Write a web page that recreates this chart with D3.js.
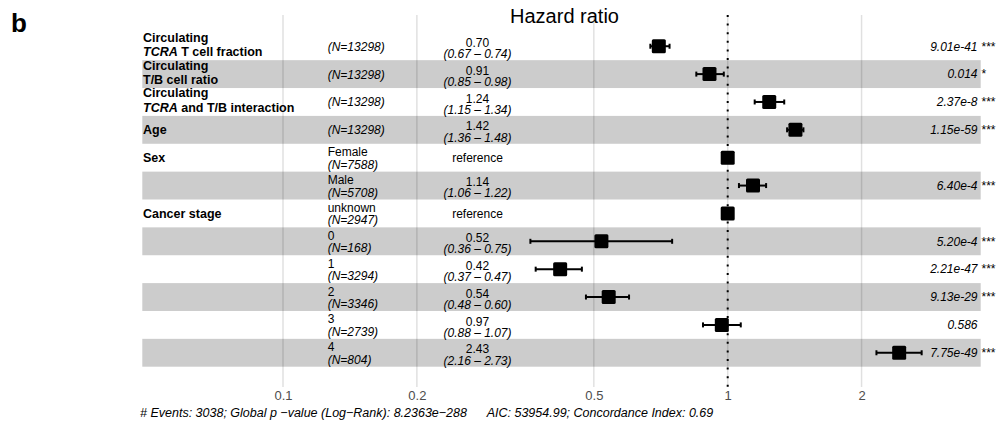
<!DOCTYPE html>
<html>
<head>
<meta charset="utf-8">
<script src="https://cdn.jsdelivr.net/npm/d3@7"></script>
<style>
  body { margin: 0; background: #fff; }
  text { font-family: "Liberation Sans", Arial, Helvetica, sans-serif; }
</style>
</head>
<body>
<div id="chart"></div>
<script>
// --------------------------------------
// Data
// --------------------------------------

// variable labels, "|" splits lines, _x_ marks italic
const varLabels = [
  "Circulating|_TCRA_ T cell fraction",
  "Circulating|T/B cell ratio",
  "Circulating|_TCRA_ and T/B interaction",
  "Age",
  "Sex",
  "",
  "Cancer stage",
  "", "", "", "", ""
];
const levels = ["", "", "", "", "Female", "Male", "unknown", "0", "1", "2", "3", "4"];
const counts = [13298, 13298, 13298, 13298, 7588, 5708, 2947, 168, 3294, 3346, 2739, 804];
const hr   = [0.70, 0.91, 1.24, 1.42, 1, 1.14, 1, 0.52, 0.42, 0.54, 0.97, 2.43];
const low  = [0.67, 0.85, 1.15, 1.36, null, 1.06, null, 0.36, 0.37, 0.48, 0.88, 2.16];
const high = [0.74, 0.98, 1.34, 1.48, null, 1.22, null, 0.75, 0.47, 0.60, 1.07, 2.73];
const isRef = [false, false, false, false, true, false, true, false, false, false, false, false];
const pvals = ["9.01e-41", "0.014", "2.37e-8", "1.15e-59", "", "6.40e-4", "", "5.20e-4", "2.21e-47", "9.13e-29", "0.586", "7.75e-49"];
const stars = ["***", "*", "***", "***", "", "***", "", "***", "***", "***", "", "***"];
const tickValues = [0.1, 0.2, 0.5, 1, 2];
const footer1 = "# Events: 3038; Global p \u2212value (Log\u2212Rank): 8.2363e\u2212288";
const footer2 = "AIC: 53954.99; Concordance Index: 0.69";

const rows = hr.map((d, i) => ({
  i, label: varLabels[i], level: levels[i], n: counts[i], hr: d,
  lo: low[i], hi: high[i], ref: isRef[i], p: pvals[i], stars: stars[i]
}));

// --------------------------------------
// Canvas
// --------------------------------------

const width = 1001, height = 423;

const svg = d3.select("#chart")
  .append("svg")
    .attr("width", width)
    .attr("height", height);

// --------------------------------------
// Scales
// --------------------------------------

const x = d3.scaleLog().domain([0.1, 1]).range([283, 727.7]);
const y = d3.scaleBand().domain(d3.range(rows.length)).range([32.3, 366.7]);
const cy = i => y(i) + y.bandwidth() / 2;

const fmt = d3.format(".2f");

// --------------------------------------
// Bands and grid
// --------------------------------------

svg.selectAll("rect.band")
  .data(rows.filter(d => d.i % 2 === 1))
  .join("rect")
    .attr("class", "band")
    .attr("x", 142.3)
    .attr("y", d => y(d.i))
    .attr("width", 980.7 - 142.3)
    .attr("height", y.bandwidth())
    .attr("fill", "#cccccc");

svg.selectAll("line.grid")
  .data(tickValues)
  .join("line")
    .attr("class", "grid")
    .attr("x1", d => x(d)).attr("x2", d => x(d))
    .attr("y1", 15).attr("y2", 387)
    .attr("stroke", "#000")
    .attr("stroke-opacity", 0.12)
    .attr("stroke-width", 1.5);

// reference line at HR = 1
svg.append("line")
    .attr("x1", x(1)).attr("x2", x(1))
    .attr("y1", 15).attr("y2", 387)
    .attr("stroke", "#000")
    .attr("stroke-width", 2)
    .attr("stroke-dasharray", "2 6.6");

// --------------------------------------
// Axis
// --------------------------------------

const axis = svg.append("g")
    .attr("transform", "translate(0, 388)")
    .call(d3.axisBottom(x).tickValues(tickValues).tickSize(0).tickPadding(3)
      .tickFormat(d3.format("")));
axis.select(".domain").remove();
axis.selectAll("text")
    .attr("fill", "#4d4d4d")
    .style("font-size", "13px")
    .style("font-family", "'Liberation Sans', Arial, sans-serif");

// --------------------------------------
// Text columns
// --------------------------------------

function addRich(sel, str) {
  str.split(/(_[^_]+_)/).filter(s => s.length).forEach(part => {
    const t = sel.append("tspan");
    if (part.startsWith("_")) t.attr("font-style", "italic").text(part.slice(1, -1));
    else t.text(part);
  });
}

const varText = svg.append("g")
    .attr("font-weight", "bold")
    .attr("font-size", 12.5);

rows.filter(d => d.label).forEach(d => {
  const lines = d.label.split("|");
  lines.forEach((ln, k) => {
    const yy = lines.length === 1 ? cy(d.i) + 4.5 : cy(d.i) + (k === 0 ? -4.5 : 10);
    const t = varText.append("text").attr("x", 143).attr("y", yy);
    addRich(t, ln);
  });
});

// N column
const nText = svg.append("g").attr("font-size", 12);
rows.forEach(d => {
  if (d.level) {
    nText.append("text").attr("x", 327.7).attr("y", cy(d.i) - 1.5).text(d.level);
    nText.append("text").attr("x", 327.7).attr("y", cy(d.i) + 11)
      .attr("font-style", "italic").text(`(N=${d.n})`);
  } else {
    nText.append("text").attr("x", 327.7).attr("y", cy(d.i) + 4.5)
      .attr("font-style", "italic").text(`(N=${d.n})`);
  }
});

// HR column
const hrText = svg.append("g").attr("font-size", 12).attr("text-anchor", "middle");
rows.forEach(d => {
  if (d.ref) {
    hrText.append("text").attr("x", 477.5).attr("y", cy(d.i) + 4.2).text("reference");
  } else {
    hrText.append("text").attr("x", 477.5).attr("y", cy(d.i) + 0.6).text(fmt(d.hr));
    hrText.append("text").attr("x", 477.5).attr("y", cy(d.i) + 11.8)
      .attr("font-style", "italic").text(`(${fmt(d.lo)} \u2013 ${fmt(d.hi)})`);
  }
});

// p-values
const pText = svg.append("g").attr("font-size", 12).attr("font-style", "italic");
rows.filter(d => d.p).forEach(d => {
  pText.append("text").attr("x", 977.5).attr("y", cy(d.i) + 4.3)
    .attr("text-anchor", "end").text(d.p);
  if (d.stars) {
    pText.append("text").attr("x", 981).attr("y", cy(d.i) + 4.3).text(d.stars);
  }
});

// --------------------------------------
// Estimates
// --------------------------------------

const est = svg.append("g");

const ci = rows.filter(d => !d.ref);
est.selectAll("line.ci")
  .data(ci)
  .join("line")
    .attr("class", "ci")
    .attr("x1", d => x(d.lo)).attr("x2", d => x(d.hi))
    .attr("y1", d => cy(d.i)).attr("y2", d => cy(d.i))
    .attr("stroke", "#000").attr("stroke-width", 2);

est.selectAll("line.cap")
  .data(ci.flatMap(d => [{ i: d.i, v: d.lo }, { i: d.i, v: d.hi }]))
  .join("line")
    .attr("class", "cap")
    .attr("x1", d => x(d.v)).attr("x2", d => x(d.v))
    .attr("y1", d => cy(d.i) - 2.5).attr("y2", d => cy(d.i) + 2.5)
    .attr("stroke", "#000").attr("stroke-width", 2);

est.selectAll("rect.pt")
  .data(rows)
  .join("rect")
    .attr("class", "pt")
    .attr("x", d => x(d.hr) - 7)
    .attr("y", d => cy(d.i) - 7)
    .attr("width", 14).attr("height", 14)
    .attr("rx", 1.5)
    .attr("fill", "#000");

// --------------------------------------
// Titles
// --------------------------------------

svg.append("text")
    .attr("x", 564.5).attr("y", 23)
    .attr("text-anchor", "middle")
    .attr("font-size", 20)
    .text("Hazard ratio");

svg.append("text")
    .attr("x", 11).attr("y", 32)
    .attr("font-size", 26)
    .attr("font-weight", "bold")
    .text("b");

svg.append("text")
    .attr("x", 140).attr("y", 417)
    .attr("font-size", 12.5).attr("font-style", "italic")
    .text(footer1);

svg.append("text")
    .attr("x", 486.7).attr("y", 417)
    .attr("font-size", 12.5).attr("font-style", "italic")
    .text(footer2);
</script>
</body>
</html>
